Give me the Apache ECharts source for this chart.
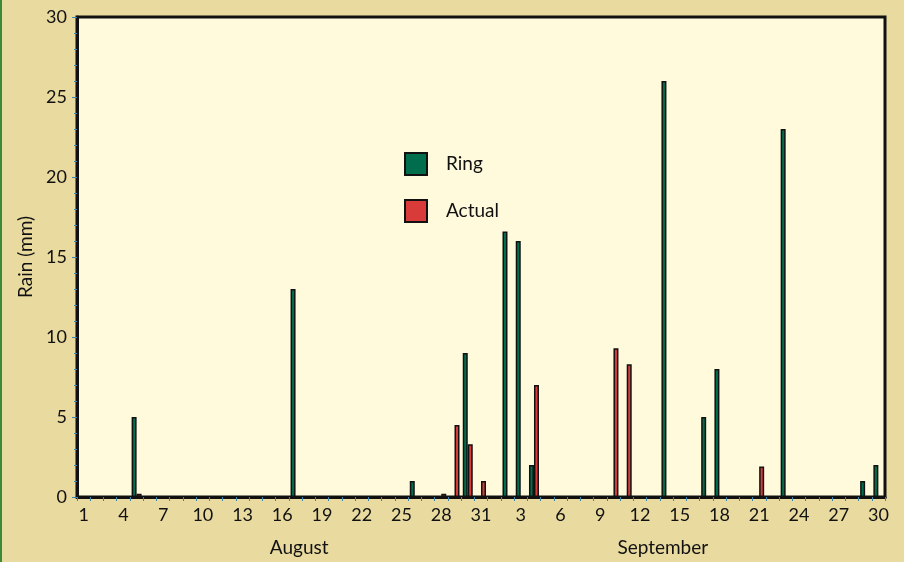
<!DOCTYPE html>
<html>
<head>
<meta charset="utf-8">
<script src="https://cdn.jsdelivr.net/npm/echarts@6/dist/echarts.min.js"></script>
<style>
html,body{margin:0;padding:0;background:#E9DBA0;}
#c{width:904px;height:562px;}
</style>
</head>
<body>
<div id="c"></div>
<script>
// Day labels: August 1..31 then September 1..30
var days = ['1','2','3','4','5','6','7','8','9','10','11','12','13','14','15','16','17','18','19','20','21','22','23','24','25','26','27','28','29','30','31',
            '1','2','3','4','5','6','7','8','9','10','11','12','13','14','15','16','17','18','19','20','21','22','23','24','25','26','27','28','29','30'];
// Month labels (placed under the middle-ish day of each month)
var months = ['','','','','','','','','','','','','','','','','August','','','','','','','','','','','','','','',
              '','','','','','','','','','','','','September','','','','','','','','','','','','','','','',''];
// Ring forecast (mm)
var ring = [0,0,0,0,5,0,0,0,0,0,0,0,0,0,0,0,13,0,0,0,0,0,0,0,0,1,0,0,0,9,0,
            0,16.6,16,2,0,0,0,0,0,0,0,0,0,26,0,0,5,8,0,0,0,0,23,0,0,0,0,0,1,2];
// Actual rainfall (mm)
var actual = [0,0,0,0,0.2,0,0,0,0,0,0,0,0,0,0,0,0,0,0,0,0,0,0,0,0,0,0,0.2,4.5,3.3,1,
              0,0,0,7,0,0,0,0,0,9.3,8.3,0,0,0,0,0,0,0,0,0,1.9,0,0,0,0,0,0,0,0,0];

var FONT = 'Lato';
var tickBlue = '#3C86B4';
var chart = echarts.init(document.getElementById('c'));
chart.setOption({
  backgroundColor: '#E9DBA0',
  textStyle: {fontFamily: FONT, color: '#111'},
  graphic: [{type: 'rect', left: 0, top: 0, shape: {width: 2, height: 562}, style: {fill: '#3A8A3A'}}],
  legend: {
    orient: 'vertical', left: 404, top: 152, padding: 0,
    itemWidth: 22, itemHeight: 22, itemGap: 23,
    icon: 'rect',
    textStyle: {fontFamily: FONT, fontSize: 19, color: '#111', padding: [0, 0, 0, 14], lineHeight: 22},
    data: ['Ring', 'Actual']
  },
  grid: {
    left: 77, right: 19, top: 17, bottom: 65,
    show: true, backgroundColor: '#FFFADC', borderColor: '#111', borderWidth: 3
  },
  xAxis: [{
    type: 'category', data: days, boundaryGap: true,
    axisLine: {show: true, lineStyle: {color: '#111', width: 3}},
    axisTick: {show: true, interval: 0, length: 4, lineStyle: {color: tickBlue, width: 1}},
    axisLabel: {interval: 2, fontSize: 18, color: '#111', margin: 9, fontFamily: FONT},
    splitLine: {show: false}
  }, {
    type: 'category', data: months, boundaryGap: true, position: 'bottom', offset: 32,
    axisLine: {show: false}, axisTick: {show: false},
    axisLabel: {interval: 0, fontSize: 19, color: '#111', margin: 9, fontFamily: FONT},
    splitLine: {show: false}
  }],
  yAxis: {
    type: 'value', min: 0, max: 30, interval: 5,
    name: 'Rain (mm)', nameLocation: 'middle', nameGap: 33, nameRotate: 90,
    nameTextStyle: {fontSize: 19, color: '#111', fontFamily: FONT},
    axisLine: {show: true, lineStyle: {color: '#111', width: 3}},
    axisTick: {show: true, length: 5, lineStyle: {color: tickBlue, width: 1}},
    minorTick: {show: true, splitNumber: 5, length: 3, lineStyle: {color: tickBlue, width: 1}},
    axisLabel: {fontSize: 18, color: '#111', margin: 10, fontFamily: FONT},
    splitLine: {show: false}
  },
  series: [{
    name: 'Ring', type: 'bar', data: ring, barWidth: 5, barGap: '0%',
    itemStyle: {color: '#006E4C', borderColor: '#111', borderWidth: 1.5},
    emphasis: {disabled: true}
  }, {
    name: 'Actual', type: 'bar', data: actual, barWidth: 5, barGap: '0%',
    itemStyle: {color: '#D93B3B', borderColor: '#111', borderWidth: 1.5},
    emphasis: {disabled: true}
  }]
});
</script>
</body>
</html>
